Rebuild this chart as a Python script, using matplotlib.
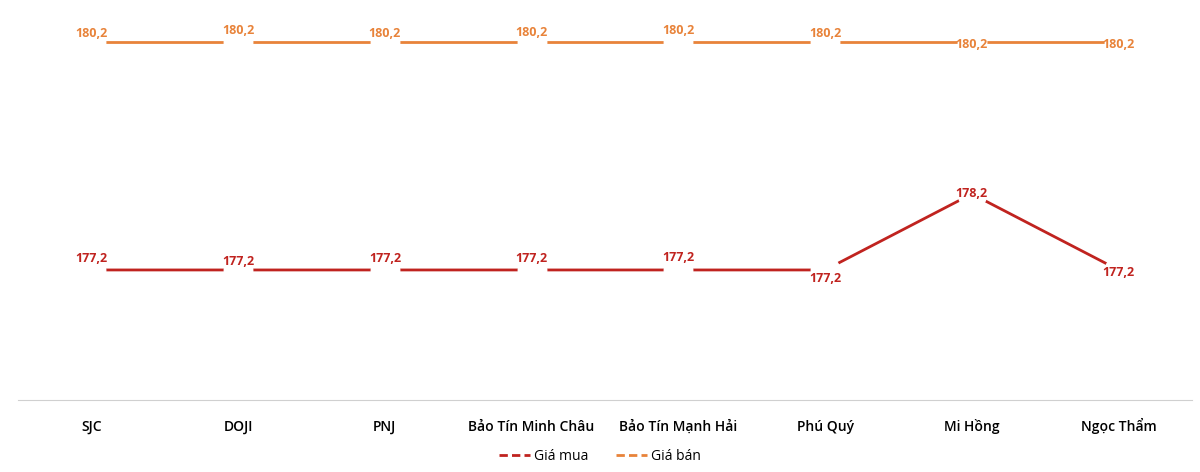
import matplotlib
matplotlib.use('Agg')
import matplotlib.pyplot as plt

plt.rcParams['font.family'] = ['Open Sans', 'DejaVu Sans']

brands = ['SJC', 'DOJI', 'PNJ', 'Bảo Tín Minh Châu', 'Bảo Tín Mạnh Hải',
          'Phú Quý', 'Mi Hồng', 'Ngọc Thẩm']
gia_mua = [177.2, 177.2, 177.2, 177.2, 177.2, 177.2, 178.2, 177.2]
gia_ban = [180.2, 180.2, 180.2, 180.2, 180.2, 180.2, 180.2, 180.2]

# label vertical offsets in points (Excel-style placement)
off_mua = [8, 6, 8, 8, 9, -6, 0, -2]
off_ban = [6, 8, 6, 7, 8, 6, -2, -2]

red = '#c0231f'
orange = '#e8833a'

fig = plt.figure(figsize=(12, 4.72), dpi=100)
ax = fig.add_axes([18 / 1200, 72 / 472, 1174 / 1200, 400 / 472])
x = list(range(len(brands)))
ax.plot(x, gia_mua, color=red, lw=2, label='Giá mua', zorder=2)
ax.plot(x, gia_ban, color=orange, lw=2, label='Giá bán', zorder=2)
# white gaps around each point, as in the original
ax.scatter(x, gia_mua, s=420, color='white', zorder=2.5)
ax.scatter(x, gia_ban, s=420, color='white', zorder=2.5)

for xi, v, o in zip(x, gia_mua, off_mua):
    ax.annotate(f'{v:.1f}'.replace('.', ','), (xi, v), xytext=(0, o),
                textcoords='offset points', ha='center', va='center',
                fontsize=9, fontweight='bold', color=red, zorder=3)
for xi, v, o in zip(x, gia_ban, off_ban):
    ax.annotate(f'{v:.1f}'.replace('.', ','), (xi, v), xytext=(0, o),
                textcoords='offset points', ha='center', va='center',
                fontsize=9, fontweight='bold', color=orange, zorder=3)

ax.set_xlim(-0.5, len(brands) - 0.5)
ax.set_ylim(175.49, 180.75)
ax.set_xticks(x)
ax.set_xticklabels(brands, fontsize=10, fontweight='semibold', va='baseline')
ax.tick_params(axis='x', length=0, pad=22)
ax.set_yticks([])
for s in ['top', 'right', 'left']:
    ax.spines[s].set_visible(False)
ax.spines['bottom'].set_color('#d0d0d0')

from matplotlib.lines import Line2D
handles = [Line2D([], [], color=red, lw=2, ls=(0, (3, 1.5))),
           Line2D([], [], color=orange, lw=2, ls=(0, (3, 1.5)))]
fig.legend(handles, ['Giá mua', 'Giá bán'], loc='lower center',
           bbox_to_anchor=(0.5, -0.01), ncol=2, frameon=False, fontsize=10,
           handlelength=2.2, handletextpad=0.3)
fig.savefig('out.png')
